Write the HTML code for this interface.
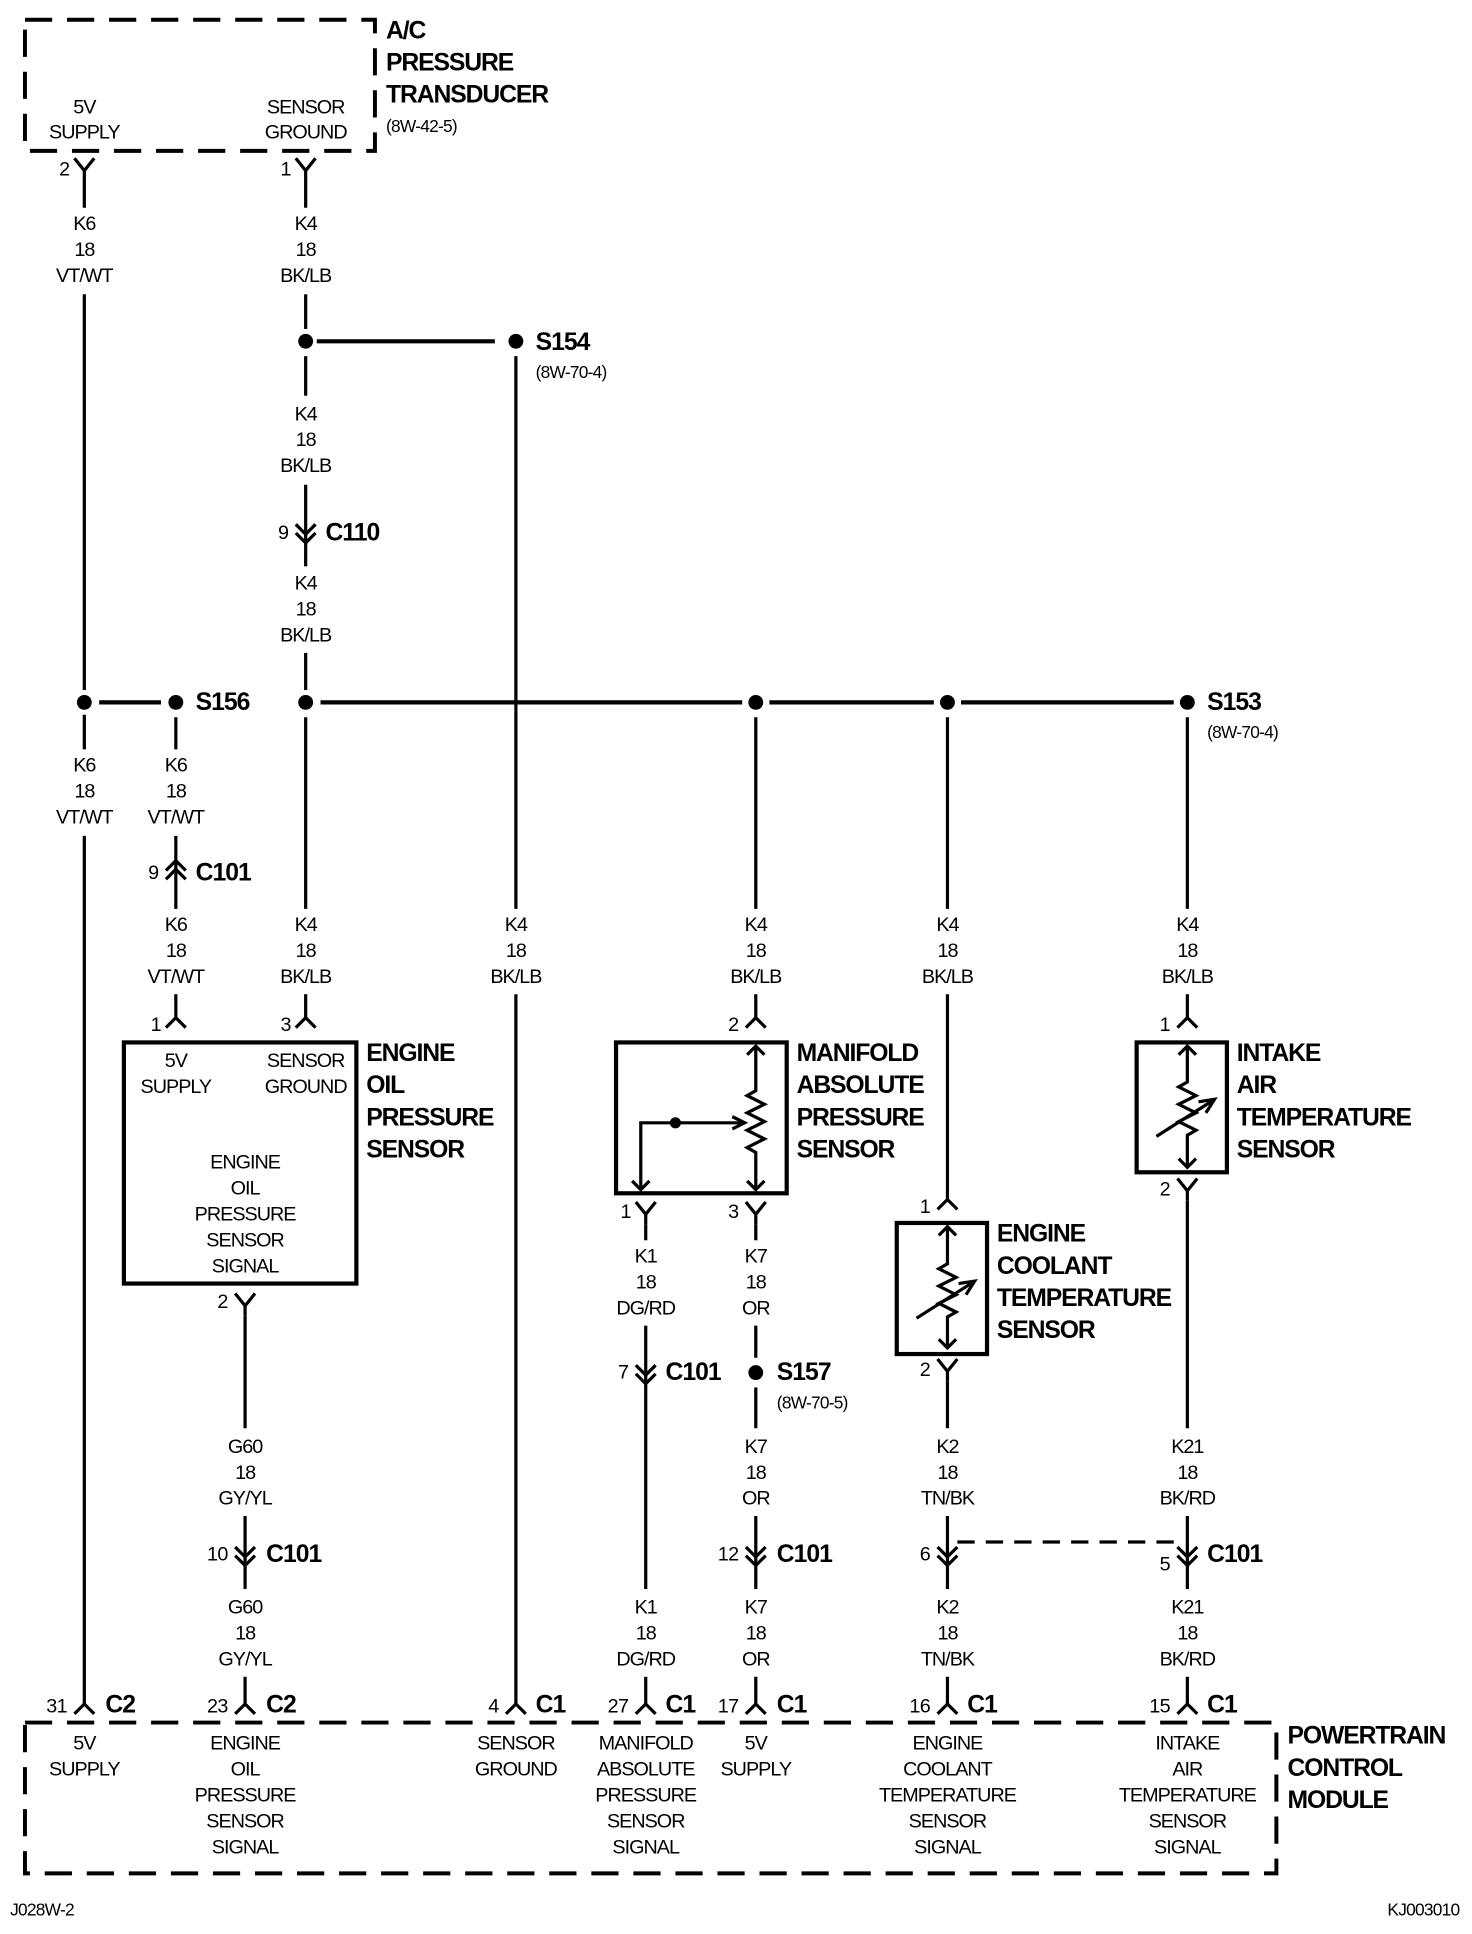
<!DOCTYPE html>
<html><head><meta charset="utf-8"><style>
html,body{margin:0;padding:0;background:#fff}
svg{display:block}
text{font-family:"Liberation Sans Narrow","Liberation Sans",sans-serif;dominant-baseline:central;fill:#000}
.w{font-size:16px;text-anchor:middle;letter-spacing:-0.8px}
.p{font-size:16px;text-anchor:end;letter-spacing:-0.5px}
.t{font-size:20px;font-weight:bold;letter-spacing:-0.9px}
.s{font-size:14px;letter-spacing:-0.6px}
.c{font-size:20px;font-weight:bold;letter-spacing:-0.8px}
line,polyline,rect,path{stroke:#000;stroke-width:2.6;fill:none}
.d{stroke-dasharray:22 12;stroke-width:3.2}
.b{stroke-width:3.4}
</style></head><body>
<svg width="1472" height="1934" viewBox="0 0 1190 1564" xmlns="http://www.w3.org/2000/svg">
<defs>
<g id="fy"><polyline points="-8,-6 0,4 8,-6"/><line x1="0" y1="4" x2="0" y2="12"/></g>
<g id="mu"><polyline points="-8,8 0,0 8,8"/></g>
<g id="dd"><polyline points="-8,-8 0,0 8,-8"/><polyline points="-8,-1 0,7 8,-1"/></g>
<g id="du"><polyline points="-8,8 0,0 8,8"/><polyline points="-8,1 0,-7 8,1"/></g>
<g id="dot"><circle r="6" fill="#000"/></g>
</defs>

<!-- A/C box -->
<rect class="d" x="20" y="16" width="283" height="106"/>
<text class="t" x="312" y="25">A/C</text>
<text class="t" x="312" y="51">PRESSURE</text>
<text class="t" x="312" y="77">TRANSDUCER</text>
<text class="s" x="312" y="102">(8W-42-5)</text>
<text class="w" x="68" y="87">5V</text><text class="w" x="68" y="107">SUPPLY</text>
<text class="w" x="247" y="87">SENSOR</text><text class="w" x="247" y="107">GROUND</text>
<use href="#fy" x="68" y="134"/><text class="p" x="56" y="137">2</text>
<use href="#fy" x="247" y="134"/><text class="p" x="235" y="137">1</text>

<!-- x=68 -->
<line x1="68" y1="146" x2="68" y2="168"/>
<text class="w" x="68" y="181">K6</text><text class="w" x="68" y="202">18</text><text class="w" x="68" y="223">VT/WT</text>
<line x1="68" y1="238" x2="68" y2="558"/>
<use href="#dot" x="68" y="568"/>
<line x1="68" y1="578" x2="68" y2="606"/>
<text class="w" x="68" y="619">K6</text><text class="w" x="68" y="640">18</text><text class="w" x="68" y="661">VT/WT</text>
<line x1="68" y1="676" x2="68" y2="1378"/>
<use href="#mu" x="68" y="1378"/><text class="p" x="54" y="1380">31</text><text class="c" x="85" y="1379">C2</text>

<!-- x=247 -->
<line x1="247" y1="146" x2="247" y2="168"/>
<text class="w" x="247" y="181">K4</text><text class="w" x="247" y="202">18</text><text class="w" x="247" y="223">BK/LB</text>
<line x1="247" y1="238" x2="247" y2="266"/>
<use href="#dot" x="247" y="276"/>
<line x1="256" y1="276" x2="400" y2="276" class="b"/>
<use href="#dot" x="417" y="276"/>
<text class="c" x="433" y="277">S154</text><text class="s" x="433" y="301">(8W-70-4)</text>
<line x1="247" y1="288" x2="247" y2="320"/>
<text class="w" x="247" y="335">K4</text><text class="w" x="247" y="356">18</text><text class="w" x="247" y="377">BK/LB</text>
<line x1="247" y1="392" x2="247" y2="440"/>
<use href="#dd" x="247" y="432"/><text class="p" x="233" y="431">9</text><text class="c" x="263" y="431">C110</text>
<line x1="247" y1="440" x2="247" y2="458"/>
<text class="w" x="247" y="472">K4</text><text class="w" x="247" y="493">18</text><text class="w" x="247" y="514">BK/LB</text>
<line x1="247" y1="528" x2="247" y2="558"/>
<use href="#dot" x="247" y="568"/>
<line x1="247" y1="580" x2="247" y2="735"/>
<text class="w" x="247" y="748">K4</text><text class="w" x="247" y="769">18</text><text class="w" x="247" y="790">BK/LB</text>
<line x1="247" y1="804" x2="247" y2="823"/>
<use href="#mu" x="247" y="823"/><text class="p" x="235" y="829">3</text>

<!-- S156 -->
<line x1="80" y1="568" x2="130" y2="568" class="b"/>
<use href="#dot" x="142" y="568"/>
<text class="c" x="158" y="568">S156</text>
<line x1="142" y1="580" x2="142" y2="606"/>
<text class="w" x="142" y="619">K6</text><text class="w" x="142" y="640">18</text><text class="w" x="142" y="661">VT/WT</text>
<line x1="142" y1="676" x2="142" y2="735"/>
<use href="#du" x="142" y="703"/><text class="p" x="128" y="706">9</text><text class="c" x="158" y="706">C101</text>
<text class="w" x="142" y="748">K6</text><text class="w" x="142" y="769">18</text><text class="w" x="142" y="790">VT/WT</text>
<line x1="142" y1="804" x2="142" y2="823"/>
<use href="#mu" x="142" y="823"/><text class="p" x="130" y="829">1</text>

<!-- main bus -->
<line x1="259" y1="568" x2="600" y2="568" class="b"/>
<use href="#dot" x="611" y="568"/>
<line x1="622" y1="568" x2="755" y2="568" class="b"/>
<use href="#dot" x="766" y="568"/>
<line x1="777" y1="568" x2="949" y2="568" class="b"/>
<use href="#dot" x="960" y="568"/>
<text class="c" x="976" y="568">S153</text><text class="s" x="976" y="592">(8W-70-4)</text>

<!-- Engine oil pressure sensor -->
<rect class="b" x="100" y="843" width="188" height="195"/>
<text class="w" x="142" y="858">5V</text><text class="w" x="142" y="879">SUPPLY</text>
<text class="w" x="247" y="858">SENSOR</text><text class="w" x="247" y="879">GROUND</text>
<text class="w" x="198" y="940">ENGINE</text><text class="w" x="198" y="961">OIL</text><text class="w" x="198" y="982">PRESSURE</text><text class="w" x="198" y="1003">SENSOR</text><text class="w" x="198" y="1024">SIGNAL</text>
<text class="t" x="296" y="852">ENGINE</text><text class="t" x="296" y="878">OIL</text><text class="t" x="296" y="904">PRESSURE</text><text class="t" x="296" y="930">SENSOR</text>
<use href="#fy" x="198" y="1052"/><text class="p" x="184" y="1053">2</text>
<line x1="198" y1="1064" x2="198" y2="1155"/>
<text class="w" x="198" y="1170">G60</text><text class="w" x="198" y="1191">18</text><text class="w" x="198" y="1212">GY/YL</text>
<line x1="198" y1="1226" x2="198" y2="1285"/>
<use href="#dd" x="198" y="1259"/><text class="p" x="184" y="1257">10</text><text class="c" x="215" y="1257">C101</text>
<text class="w" x="198" y="1300">G60</text><text class="w" x="198" y="1321">18</text><text class="w" x="198" y="1342">GY/YL</text>
<line x1="198" y1="1356" x2="198" y2="1378"/>
<use href="#mu" x="198" y="1378"/><text class="p" x="184" y="1380">23</text><text class="c" x="215" y="1379">C2</text>

<!-- x=417 -->
<line x1="417" y1="288" x2="417" y2="735"/>
<text class="w" x="417" y="748">K4</text><text class="w" x="417" y="769">18</text><text class="w" x="417" y="790">BK/LB</text>
<line x1="417" y1="804" x2="417" y2="1378"/>
<use href="#mu" x="417" y="1378"/><text class="p" x="403" y="1380">4</text><text class="c" x="433" y="1379">C1</text>

<!-- MAP sensor -->
<line x1="611" y1="580" x2="611" y2="735"/>
<text class="w" x="611" y="748">K4</text><text class="w" x="611" y="769">18</text><text class="w" x="611" y="790">BK/LB</text>
<line x1="611" y1="804" x2="611" y2="823"/>
<use href="#mu" x="611" y="823"/><text class="p" x="597" y="829">2</text>
<rect class="b" x="498" y="843" width="138" height="122"/>
<polyline points="611,847 611,882 604,886 618,893 604,900 618,907 604,914 618,921 604,928 611,932 611,962"/>
<polyline points="604,853 611,846 618,853"/><polyline points="604,955 611,962 618,955"/>
<polyline points="518,962 518,908 600,908"/>
<polyline points="592,903 602,908 592,913" fill="#000"/>
<polyline points="511,955 518,962 525,955"/>
<circle cx="546" cy="908" r="4.5" fill="#000"/>
<use href="#fy" x="522" y="978"/><text class="p" x="510" y="980">1</text>
<use href="#fy" x="611" y="978"/><text class="p" x="597" y="980">3</text>
<text class="t" x="644" y="852">MANIFOLD</text><text class="t" x="644" y="878">ABSOLUTE</text><text class="t" x="644" y="904">PRESSURE</text><text class="t" x="644" y="930">SENSOR</text>
<line x1="522" y1="990" x2="522" y2="1003"/>
<text class="w" x="522" y="1016">K1</text><text class="w" x="522" y="1037">18</text><text class="w" x="522" y="1058">DG/RD</text>
<line x1="522" y1="1072" x2="522" y2="1285"/>
<use href="#dd" x="522" y="1112"/><text class="p" x="508" y="1110">7</text><text class="c" x="538" y="1110">C101</text>
<text class="w" x="522" y="1300">K1</text><text class="w" x="522" y="1321">18</text><text class="w" x="522" y="1342">DG/RD</text>
<line x1="522" y1="1356" x2="522" y2="1378"/>
<use href="#mu" x="522" y="1378"/><text class="p" x="508" y="1380">27</text><text class="c" x="538" y="1379">C1</text>

<line x1="611" y1="990" x2="611" y2="1003"/>
<text class="w" x="611" y="1016">K7</text><text class="w" x="611" y="1037">18</text><text class="w" x="611" y="1058">OR</text>
<line x1="611" y1="1072" x2="611" y2="1098"/>
<use href="#dot" x="611" y="1110"/>
<text class="c" x="628" y="1110">S157</text><text class="s" x="628" y="1134">(8W-70-5)</text>
<line x1="611" y1="1122" x2="611" y2="1155"/>
<text class="w" x="611" y="1170">K7</text><text class="w" x="611" y="1191">18</text><text class="w" x="611" y="1212">OR</text>
<line x1="611" y1="1226" x2="611" y2="1285"/>
<use href="#dd" x="611" y="1259"/><text class="p" x="597" y="1257">12</text><text class="c" x="628" y="1257">C101</text>
<text class="w" x="611" y="1300">K7</text><text class="w" x="611" y="1321">18</text><text class="w" x="611" y="1342">OR</text>
<line x1="611" y1="1356" x2="611" y2="1378"/>
<use href="#mu" x="611" y="1378"/><text class="p" x="597" y="1380">17</text><text class="c" x="628" y="1379">C1</text>

<!-- ECT -->
<line x1="766" y1="580" x2="766" y2="735"/>
<text class="w" x="766" y="748">K4</text><text class="w" x="766" y="769">18</text><text class="w" x="766" y="790">BK/LB</text>
<line x1="766" y1="804" x2="766" y2="970"/>
<use href="#mu" x="766" y="970"/><text class="p" x="752" y="976">1</text>
<rect class="b" x="725" y="989" width="73" height="106"/>
<polyline points="766,993 766,1022 759,1026 773,1033 759,1040 773,1047 759,1054 773,1061 766,1065 766,1090"/>
<polyline points="759,999 766,992 773,999"/><polyline points="759,1083 766,1090 773,1083"/>
<line x1="741" y1="1066" x2="785" y2="1038"/>
<polyline points="775,1038 788,1036 781,1047" fill="#000"/>
<use href="#fy" x="766" y="1105"/><text class="p" x="752" y="1108">2</text>
<text class="t" x="806" y="998">ENGINE</text><text class="t" x="806" y="1024">COOLANT</text><text class="t" x="806" y="1050">TEMPERATURE</text><text class="t" x="806" y="1076">SENSOR</text>
<line x1="766" y1="1117" x2="766" y2="1155"/>
<text class="w" x="766" y="1170">K2</text><text class="w" x="766" y="1191">18</text><text class="w" x="766" y="1212">TN/BK</text>
<line x1="766" y1="1226" x2="766" y2="1285"/>
<use href="#dd" x="766" y="1259"/><text class="p" x="752" y="1257">6</text>
<text class="w" x="766" y="1300">K2</text><text class="w" x="766" y="1321">18</text><text class="w" x="766" y="1342">TN/BK</text>
<line x1="766" y1="1356" x2="766" y2="1378"/>
<use href="#mu" x="766" y="1378"/><text class="p" x="752" y="1380">16</text><text class="c" x="782" y="1379">C1</text>
<line x1="774" y1="1247" x2="952" y2="1247" stroke-dasharray="14 9"/>

<!-- IAT -->
<line x1="960" y1="580" x2="960" y2="735"/>
<text class="w" x="960" y="748">K4</text><text class="w" x="960" y="769">18</text><text class="w" x="960" y="790">BK/LB</text>
<line x1="960" y1="804" x2="960" y2="823"/>
<use href="#mu" x="960" y="823"/><text class="p" x="946" y="829">1</text>
<rect class="b" x="919" y="843" width="73" height="105"/>
<polyline points="960,847 960,875 953,879 967,886 953,893 967,900 953,907 967,914 960,918 960,944"/>
<polyline points="953,853 960,846 967,853"/><polyline points="953,937 960,944 967,937"/>
<line x1="935" y1="919" x2="979" y2="891"/>
<polyline points="969,891 982,889 975,900" fill="#000"/>
<use href="#fy" x="960" y="959"/><text class="p" x="946" y="962">2</text>
<text class="t" x="1000" y="852">INTAKE</text><text class="t" x="1000" y="878">AIR</text><text class="t" x="1000" y="904">TEMPERATURE</text><text class="t" x="1000" y="930">SENSOR</text>
<line x1="960" y1="971" x2="960" y2="1155"/>
<text class="w" x="960" y="1170">K21</text><text class="w" x="960" y="1191">18</text><text class="w" x="960" y="1212">BK/RD</text>
<line x1="960" y1="1226" x2="960" y2="1285"/>
<use href="#dd" x="960" y="1259"/><text class="p" x="946" y="1265">5</text><text class="c" x="976" y="1257">C101</text>
<text class="w" x="960" y="1300">K21</text><text class="w" x="960" y="1321">18</text><text class="w" x="960" y="1342">BK/RD</text>
<line x1="960" y1="1356" x2="960" y2="1378"/>
<use href="#mu" x="960" y="1378"/><text class="p" x="946" y="1380">15</text><text class="c" x="976" y="1379">C1</text>

<!-- PCM -->
<rect class="d" x="20" y="1393" width="1012" height="122"/>
<text class="t" x="1041" y="1404">POWERTRAIN</text><text class="t" x="1041" y="1430">CONTROL</text><text class="t" x="1041" y="1456">MODULE</text>
<text class="w" x="68" y="1410">5V</text><text class="w" x="68" y="1431">SUPPLY</text>
<text class="w" x="198" y="1410">ENGINE</text><text class="w" x="198" y="1431">OIL</text><text class="w" x="198" y="1452">PRESSURE</text><text class="w" x="198" y="1473">SENSOR</text><text class="w" x="198" y="1494">SIGNAL</text>
<text class="w" x="417" y="1410">SENSOR</text><text class="w" x="417" y="1431">GROUND</text>
<text class="w" x="522" y="1410">MANIFOLD</text><text class="w" x="522" y="1431">ABSOLUTE</text><text class="w" x="522" y="1452">PRESSURE</text><text class="w" x="522" y="1473">SENSOR</text><text class="w" x="522" y="1494">SIGNAL</text>
<text class="w" x="611" y="1410">5V</text><text class="w" x="611" y="1431">SUPPLY</text>
<text class="w" x="766" y="1410">ENGINE</text><text class="w" x="766" y="1431">COOLANT</text><text class="w" x="766" y="1452">TEMPERATURE</text><text class="w" x="766" y="1473">SENSOR</text><text class="w" x="766" y="1494">SIGNAL</text>
<text class="w" x="960" y="1410">INTAKE</text><text class="w" x="960" y="1431">AIR</text><text class="w" x="960" y="1452">TEMPERATURE</text><text class="w" x="960" y="1473">SENSOR</text><text class="w" x="960" y="1494">SIGNAL</text>

<text class="s" x="8" y="1544">J028W-2</text>
<text class="s" x="1180" y="1544" text-anchor="end">KJ003010</text>
</svg>
</body></html>
